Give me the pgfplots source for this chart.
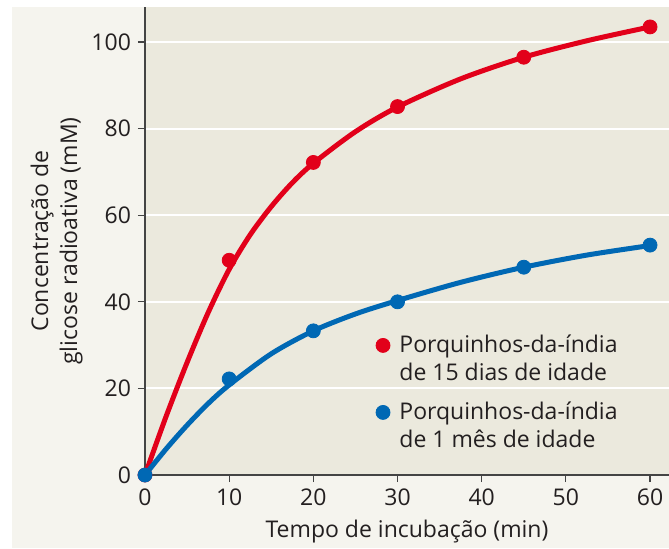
\documentclass[border=0pt]{standalone}
\usepackage{pgfplots}
\pgfplotsset{compat=1.18}
\usepackage{fontspec}
\setmainfont{Open Sans}
\definecolor{outerbg}{HTML}{F5F4EE}
\definecolor{plotbg}{HTML}{EBE9DD}
\definecolor{cred}{HTML}{E2001A}
\definecolor{cblue}{HTML}{0068B4}
\definecolor{axgray}{HTML}{444444}
\definecolor{txt}{HTML}{231F20}
\begin{document}
\begin{tikzpicture}
\useasboundingbox (-72.5pt,-36.5pt) rectangle (262pt,237.5pt);
\fill[outerbg] (-66.5pt,-36.5pt) rectangle (262pt,234pt);
\begin{axis}[
  at={(0,0)}, anchor=south west, scale only axis,
  width=262pt, height=234pt,
  xmin=0, xmax=62.25, ymin=0, ymax=108.1,
  axis x line*=bottom, axis y line*=left,
  axis background/.style={fill=plotbg},
  ymajorgrids, grid style={white, line width=1pt},
  xtick={0,10,...,60}, ytick={0,20,...,100},
  tick align=outside, major tick length=3.5pt,
  tick style={axgray, line width=0.6pt},
  axis line style={axgray, line width=0.8pt},
  ticklabel style={font=\fontsize{11.5}{13}\selectfont, text=txt},
  /pgf/number format/assume math mode=true,
  xlabel={Tempo de incubação (min)},
  ylabel={Concentração de\\glicose radioativa (mM)},
  label style={font=\fontsize{11.5}{14.5}\selectfont, text=txt},
  ylabel style={align=center},
  ylabel shift=-2.5pt,
  clip=false,
  legend style={at={(axis cs:27.35,33.4)}, anchor=north west, draw=none, fill=none,
    inner sep=0pt, column sep=4.5pt, row sep=0pt,
    nodes={inner sep=0pt, anchor=base west, text=txt},
    font=\fontsize{11.5}{13}\selectfont},
  legend image code/.code={\fill[#1] (0pt,3.35pt) circle (3.5pt);},
]
\addplot[cred, line width=2.5pt, smooth, forget plot] coordinates {
 (0,0) (2.5,13.5) (5,26) (7.5,37.5) (10,47.5) (12.5,55.5) (15,62) (17.5,67.5) (20,72) (25,79.3) (30,85) (37.5,91.5) (45,96.5) (52.5,100.3) (60,103.5)};
\addplot[cblue, line width=2.5pt, smooth, forget plot] coordinates {
 (0,0) (2.5,6) (5,11.5) (7.5,16.5) (10,20.8) (15,28) (20,33.3) (25,37.2) (30,40.3) (37.5,44.5) (45,48) (52.5,50.8) (60,53)};
\addplot[cred, only marks, mark=*, mark size=3.5pt] coordinates {
 (0,0) (10,49.6) (20,72.2) (30,85.1) (45,96.5) (60,103.5)};
\addlegendentry{\rule[-4pt]{0pt}{14.65pt}Porquinhos-da-índia}
\addlegendimage{empty legend}
\addlegendentry{\rule[-4pt]{0pt}{16.65pt}de 15 dias de idade}
\addplot[cblue, only marks, mark=*, mark size=3.5pt] coordinates {
 (0,0) (10,22.2) (20,33.3) (30,40) (45,48) (60,53.1)};
\addlegendentry{\rule[-4pt]{0pt}{21.85pt}Porquinhos-da-índia}
\addlegendimage{empty legend}
\addlegendentry{\rule[-4pt]{0pt}{16.65pt}de 1 mês de idade}
\end{axis}
\end{tikzpicture}
\end{document}
